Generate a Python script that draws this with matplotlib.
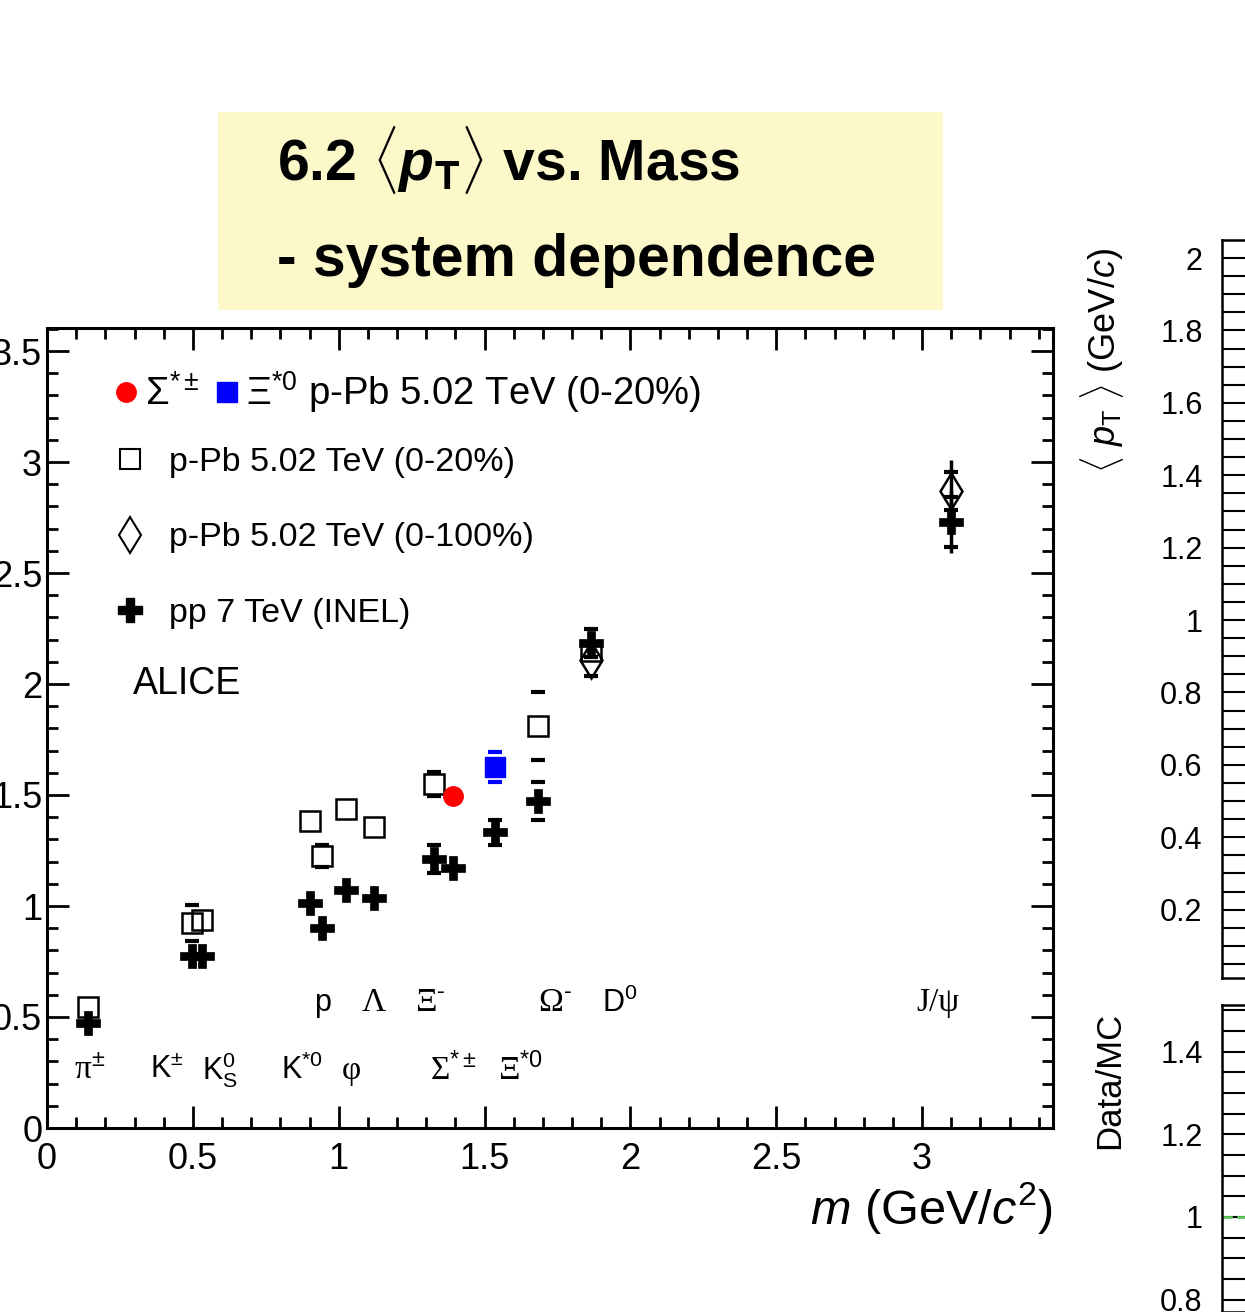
import matplotlib
matplotlib.use('Agg')
import matplotlib.pyplot as plt
from matplotlib.ticker import MultipleLocator
from matplotlib.patches import Rectangle
from matplotlib.lines import Line2D

plt.rcParams['font.family'] = ['Liberation Sans', 'DejaVu Sans']
plt.rcParams['mathtext.fontset'] = 'custom'
plt.rcParams['mathtext.rm'] = 'Liberation Sans'
plt.rcParams['mathtext.it'] = 'Liberation Sans:italic'
plt.rcParams['mathtext.bf'] = 'Liberation Sans:bold'
plt.rcParams['mathtext.bfit'] = 'Liberation Sans:bold:italic'

# ---------------- data ----------------
# p-Pb 5.02 TeV (0-20%) open squares
sq_mass = [0.140, 0.497, 0.531, 0.902, 0.943, 1.025, 1.121, 1.327, 1.683, 1.865]
sq_pt   = [0.545, 0.923, 0.937, 1.383, 1.225, 1.437, 1.356, 1.550, 1.811, 2.150]
sq_sys  = [0.000, 0.080, 0.000, 0.000, 0.050, 0.000, 0.000, 0.055, 0.155, 0.000]

# p-Pb 5.02 TeV (0-100%) open diamonds
dm_mass = [1.865, 3.099]
dm_pt   = [2.110, 2.870]
dm_stat = [0.000, 0.140]
dm_sys  = [0.075, 0.085]

# pp 7 TeV (INEL) crosses
pp_mass = [0.140, 0.497, 0.531, 0.902, 0.943, 1.025, 1.121, 1.327, 1.392, 1.536, 1.683, 1.865, 3.099]
pp_pt   = [0.473, 0.775, 0.775, 1.013, 0.900, 1.072, 1.036, 1.210, 1.170, 1.333, 1.473, 2.185, 2.730]
pp_stat = [0.000, 0.000, 0.000, 0.000, 0.000, 0.000, 0.000, 0.000, 0.000, 0.000, 0.000, 0.040, 0.140]
pp_sys  = [0.000, 0.000, 0.000, 0.000, 0.000, 0.000, 0.000, 0.063, 0.000, 0.056, 0.086, 0.065, 0.113]

# Sigma*+- and Xi*0 in p-Pb (0-20%)
sig_mass, sig_pt, sig_sys = [1.392], [1.495], [0.020]
xi_mass,  xi_pt,  xi_sys  = [1.536], [1.626], [0.068]

# particle labels
row1_labels = ['p', 'Λ', 'Ξ$^{\\text{-}}$', 'Ω$^{\\text{-}}$', 'D$^{0}$', 'J/ψ']
row1_x      = [0.943, 1.121, 1.313, 1.742, 1.964, 3.055]
row2_labels = ['π$^{\\pm}$', 'K$^{\\pm}$', 'K$^{0}_{\\rm S}$', 'K$^{*0}$', 'φ', 'Σ$^{*\\pm}$', 'Ξ$^{*0}$']
row2_x      = [0.147, 0.410, 0.593, 0.874, 1.042, 1.395, 1.625]
serif_labels = {'Λ', 'Ξ$^{\\text{-}}$', 'Ω$^{\\text{-}}$', 'J/ψ', 'π$^{\\pm}$', 'φ', 'Σ$^{*\\pm}$', 'Ξ$^{*0}$'}

x_ticks = [0, 0.5, 1, 1.5, 2, 2.5, 3]
y_ticks = [0, 0.5, 1, 1.5, 2, 2.5, 3, 3.5]


def nonzero(xs, ys, es):
    keep = [i for i, e in enumerate(es) if e > 0]
    return [xs[i] for i in keep], [ys[i] for i in keep], [es[i] for i in keep]


# ---------------- figure ----------------
W, H = 1245, 1312
fig = plt.figure(figsize=(W / 100, H / 100), dpi=100)


def fx(px):
    return px / W


def fy(py):
    return 1 - py / H


# title box
fig.patches.append(Rectangle((fx(218), fy(310)), fx(943) - fx(218), fy(112) - fy(310),
                             transform=fig.transFigure, facecolor='#fcf8c9', edgecolor='none', zorder=0))
fig.text(fx(277), fy(160), r'6.2 $\langle\mathbfit{p}_{\mathbf{T}}\rangle$ vs. Mass', fontsize=41,
         fontweight='bold', va='center', ha='left')
fig.text(fx(277), fy(260), '- system dependence', fontsize=42.5, fontweight='bold', va='center', ha='left')

# main axes
ax = fig.add_axes([fx(47), fy(1128), fx(1053) - fx(47), fy(328) - fy(1128)])
ax.set_xlim(0, (1053 - 47) / 291.7)
ax.set_ylim(0, (1128 - 328) / 222.0)
ax.set_xticks(x_ticks)
ax.set_xticklabels([f'{t:g}' for t in x_ticks])
ax.set_yticks(y_ticks)
ax.set_yticklabels([f'{t:g}' for t in y_ticks])
ax.xaxis.set_minor_locator(MultipleLocator(0.1))
ax.yaxis.set_minor_locator(MultipleLocator(0.1))
ax.tick_params(which='both', direction='in', top=True, right=True, width=2, labelsize=26)
ax.tick_params(which='major', length=16)
ax.tick_params(which='minor', length=8)
ax.tick_params(axis='x', pad=10)
for s in ax.spines.values():
    s.set_linewidth(2.2)

cap_kw = dict(fmt='none', elinewidth=0, capsize=5, capthick=3)

# squares
ax.errorbar(*nonzero(sq_mass, sq_pt, sq_sys), ecolor='black', **cap_kw, zorder=3)
ax.plot(sq_mass, sq_pt, ls='none', marker='s', ms=14, mfc='none', mec='black', mew=1.8, zorder=4)
# diamonds
ax.errorbar(*nonzero(dm_mass, dm_pt, dm_stat), fmt='none', ecolor='black', elinewidth=2.5, capsize=0, zorder=3)
ax.errorbar(*nonzero(dm_mass, dm_pt, dm_sys), ecolor='black', **cap_kw, zorder=3)
ax.plot(dm_mass, dm_pt, ls='none', marker='d', ms=18, mfc='none', mec='black', mew=1.8, zorder=4)
# crosses
ax.errorbar(*nonzero(pp_mass, pp_pt, pp_stat), fmt='none', ecolor='black', elinewidth=2.5, capsize=0, zorder=5)
ax.errorbar(*nonzero(pp_mass, pp_pt, pp_sys), ecolor='black', **cap_kw, zorder=5)
ax.plot(pp_mass, pp_pt, ls='none', marker='P', ms=17, mfc='black', mec='black', mew=0.5, zorder=6)
# sigma / xi
ax.errorbar(sig_mass, sig_pt, yerr=sig_sys, ecolor='red', **cap_kw, zorder=5)
ax.plot(sig_mass, sig_pt, ls='none', marker='o', ms=14, mfc='red', mec='red', zorder=6)
ax.errorbar(xi_mass, xi_pt, yerr=xi_sys, ecolor='blue', **cap_kw, zorder=5)
ax.plot(xi_mass, xi_pt, ls='none', marker='s', ms=14, mfc='blue', mec='blue', zorder=6)

# particle labels
for labels, xs, yv in ((row1_labels, row1_x, 0.563), (row2_labels, row2_x, 0.26)):
    for lab, x in zip(labels, xs):
        if lab in serif_labels:
            ax.text(x, yv, lab, ha='center', va='center', fontsize=24,
                    family=['Liberation Serif', 'DejaVu Serif'])
        else:
            ax.text(x, yv, lab, ha='center', va='center', fontsize=22,
                    family=['Liberation Sans', 'DejaVu Sans'])

# legends
h1 = Line2D([], [], ls='none', marker='o', ms=14, mfc='red', mec='red')
h2 = Line2D([], [], ls='none', marker='s', ms=14, mfc='blue', mec='blue')
leg1 = ax.legend([h1, h2], ['Σ$^{*\\pm}$', 'Ξ$^{*0}$ p-Pb 5.02 TeV (0-20%)'], ncol=2,
                 loc='upper left', bbox_to_anchor=(0.052, 0.9675), frameon=False, fontsize=27.5,
                 handlelength=0.6, handletextpad=0.2, columnspacing=0.4, borderaxespad=0)
ax.add_artist(leg1)
h3 = Line2D([], [], ls='none', marker='s', ms=14, mfc='none', mec='black', mew=1.5)
h4 = Line2D([], [], ls='none', marker='d', ms=18, mfc='none', mec='black', mew=1.5)
h5 = Line2D([], [], ls='none', marker='P', ms=17, mfc='black', mec='black')
ax.legend([h3, h4, h5], ['p-Pb 5.02 TeV (0-20%)', 'p-Pb 5.02 TeV (0-100%)', 'pp 7 TeV (INEL)'],
          loc='upper left', bbox_to_anchor=(0.055, 0.868), frameon=False, fontsize=24.5,
          handlelength=0.8, handletextpad=0.75, labelspacing=1.3, borderaxespad=0)
ax.text(0.085, 0.555, 'ALICE', transform=ax.transAxes, fontsize=27, va='center', ha='left')

ax.set_xlabel('$m$ (GeV/$c^{2}$)', fontsize=35, loc='right', labelpad=2)

# right partial panels
axr = fig.add_axes([fx(1222), fy(978), 0.1, fy(240) - fy(978)])
axr.set_ylim((982 - 978) / 362.0, (982 - 240) / 362.0)
axr.set_yticks([0.2, 0.4, 0.6, 0.8, 1.0, 1.2, 1.4, 1.6, 1.8, 2.0])
axr.set_yticklabels(['0.2', '0.4', '0.6', '0.8', '1', '1.2', '1.4', '1.6', '1.8', '2'])
axr.yaxis.set_minor_locator(MultipleLocator(0.05))
axr.set_xticks([])
axr.tick_params(which='both', direction='in', width=1.5, labelsize=22, pad=14)
axr.tick_params(which='major', length=30)
axr.tick_params(which='minor', length=22)
for s in axr.spines.values():
    s.set_linewidth(1.8)
axr.set_ylabel(r'$\langle$ $p_{\rm T}$ $\rangle$ (GeV/$c$)', fontsize=26)
axr.yaxis.set_label_coords(-(1222 - 1126) / (0.1 * W), (978 - 360) / (978 - 240))

axb = fig.add_axes([fx(1222), 0.0, 0.1, fy(1005)])
axb.set_ylim(0.77, 1.513)
axb.set_yticks([0.8, 1.0, 1.2, 1.4])
axb.set_yticklabels(['0.8', '1', '1.2', '1.4'])
axb.yaxis.set_minor_locator(MultipleLocator(0.05))
axb.set_xticks([])
axb.tick_params(which='both', direction='in', width=1.5, labelsize=22, pad=14)
axb.tick_params(which='major', length=30)
axb.tick_params(which='minor', length=22)
for s in axb.spines.values():
    s.set_linewidth(1.8)
axb.axhline(1.0, color='#5cc85c', lw=2, ls='--')
axb.set_ylabel('Data/MC', fontsize=25)
axb.yaxis.set_label_coords(-(1222 - 1126) / (0.1 * W), (1312 - 1080) / (1312 - 1005))

fig.savefig('out.png', dpi=100)
